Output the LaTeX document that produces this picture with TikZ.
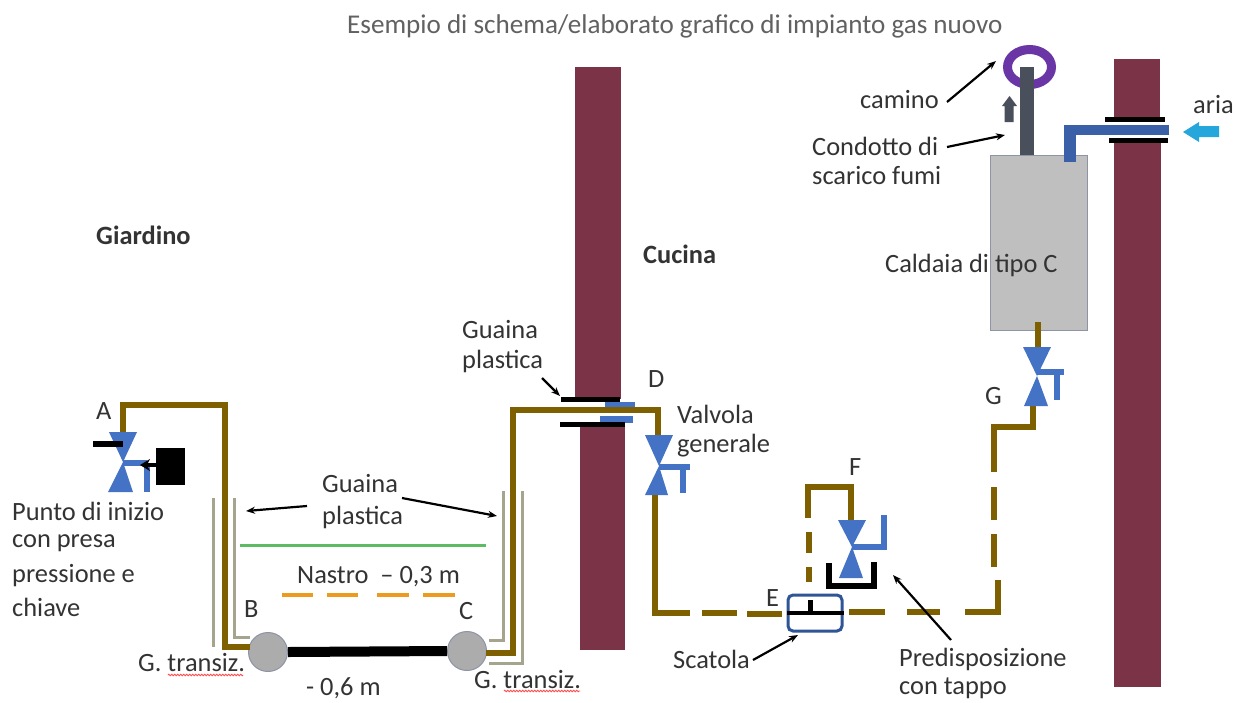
\documentclass[tikz,border=0pt]{standalone}
\usepackage{fontspec}
\setmainfont{Carlito}
\usetikzlibrary{arrows.meta,decorations.pathmorphing,shapes.geometric}
\definecolor{wall}{HTML}{7B3347}
\definecolor{pipe}{HTML}{7F6000}
\definecolor{vblue}{HTML}{4472C4}
\definecolor{dblue}{HTML}{2F5597}
\definecolor{sleeve}{HTML}{A5A58D}
\definecolor{boxgray}{HTML}{BFBFBF}
\definecolor{boxedge}{HTML}{8C94A5}
\definecolor{txt}{HTML}{333333}
\definecolor{ringc}{HTML}{6A35A5}
\definecolor{stem}{HTML}{4A4F5C}
\definecolor{tape}{HTML}{ED9B1F}
\definecolor{green1}{HTML}{5DBB63}
\definecolor{airc}{HTML}{25A7DC}
\tikzset{
  lbl/.style={font=\fontsize{26.4}{30}\selectfont,text=txt,inner sep=0pt,anchor=west},
  lblb/.style={lbl,font=\fontsize{26.4}{30}\selectfont\bfseries},
  pipeline/.style={draw=pipe,line width=6,line join=miter,line cap=butt},
  sleeveline/.style={draw=sleeve,line width=3},
  valveblue/.style={fill=vblue,draw=none},
  handle/.style={draw=vblue,line width=6},
  blackbar/.style={draw=black,line width=5},
  leader/.style={draw=black,line width=2.2,-{Stealth[length=9,width=7]}},
  wavy/.style={draw=red!70!white,line width=.8,decorate,decoration={zigzag,segment length=3,amplitude=.8}},
  joint/.style={circle,minimum size=39,inner sep=0,fill=boxgray!90!black,draw=boxedge,line width=1}
}
\newcommand{\valvetri}[7]{% cx, top y, half top, apex y, bottom y, half bottom x left, x right
  \fill[valveblue] (#1-#3,#2) -- (#1+#3,#2) -- (#1,#4) -- cycle;
  \fill[valveblue] (#1,#4) -- (#1+#7,#5) -- (#1-#6,#5) -- cycle;}
\begin{document}
\begin{tikzpicture}[x=1pt,y=-1pt]
\useasboundingbox (0,0) rectangle (1236,702);
\fill[white] (0,0) rectangle (1236,702);
% walls
\fill[wall] (575,67) rectangle (621,399);
\fill[wall] (580,424) rectangle (625,650);
\fill[wall] (1114,59) rectangle (1160,119);
\fill[wall] (1114,140) rectangle (1161,687);
% title
\node[lbl,font=\fontsize{27.1}{32}\selectfont,text=black!62] (title) at (347,26) {Esempio di schema/elaborato grafico di impianto gas nuovo};
% room labels
\node[lblb] (giardino) at (96,235) {Giardino};
\node[lblb] (cucina) at (643,254) {Cucina};
% boiler
\node[draw=boxedge,fill=boxgray,line width=1.2,minimum width=97,minimum height=175,inner sep=0,anchor=north west] (boiler) at (990,155) {};
\node[lbl] (caldaia) at (885,265) {Caldaia di tipo C};
% chimney
\fill[stem] (1020,90) rectangle (1034,155);
\node[ellipse,draw=ringc,line width=9,minimum width=44,minimum height=35,inner sep=0] (ring) at (1029.5,67) {};
\fill[stem] (1020,67) rectangle (1034,90);
\fill[stem] (1009.5,96) -- (1017,106) -- (1013.5,106) -- (1013.5,122) -- (1004.5,122) -- (1004.5,106) -- (1002,106) -- cycle;
% air duct
\draw[draw=vblue!85!black,line width=10] (1169,130) -- (1065,130);
\draw[draw=vblue!85!black,line width=12] (1070,125) -- (1070,162);
\draw[blackbar] (1105,119) -- (1165,119);
\draw[blackbar] (1109,140) -- (1168,140);
\fill[airc] (1183,132) -- (1199,122) -- (1199,126) -- (1219,126) -- (1219,137) -- (1199,137) -- (1199,142) -- cycle;
% joints & buried pipe
\node[joint] (B) at (268,652) {};
\node[joint] (C) at (467,651) {};
\draw[black,line width=10] (B.east) -- (C.west);
% sleeve lines
\draw[sleeveline] (213,498) -- (213,647);
\draw[sleeveline] (234,498) -- (234,637) -- (250,637);
\draw[sleeveline] (503,491) -- (503,640) -- (489,640);
\draw[sleeveline] (522,491) -- (522,663) -- (489,663);
% left pipe
\draw[pipeline] (123,433) -- (123,405) -- (225,405) -- (225,647) -- (250,647);
% wall crossing
\fill[vblue] (605,402) rectangle (635,408);
\fill[vblue] (600,416) rectangle (633,423);
\draw[pipeline] (486,653) -- (513,653) -- (513,410) -- (658,410) -- (658,435);
\draw[blackbar] (561,399) -- (620,399);
\draw[blackbar] (560,424) -- (625,424);
% tape, green
\draw[draw=green1,line width=3] (240,545) -- (486,545);
\foreach \a/\b in {282/313,327/358,377/409,423/455}
  \draw[draw=tape,line width=3.2] (\a,595) -- (\b,595);
% valve A
\valvetri{123}{432}{14}{462}{492}{15}{10}
\draw[handle] (123,463) -- (147,463) (147,463) -- (147,492);
\draw[blackbar,line width=6] (93,444) -- (123,444);
\node[fill=black,minimum width=29,minimum height=37,inner sep=0,anchor=north west] (plug) at (156,448) {};
\draw[black,line width=4,-{Stealth[length=10,width=12]}] (plug.west |- 0,465) -- (140,465);
% valve D
\valvetri{659}{435}{14}{466}{495}{14}{9}
\draw[handle] (659,467) -- (690,467) (683,467) -- (683,493);
\draw[pipeline] (655,495) -- (655,613) -- (690,613);
\draw[pipeline] (702,613) -- (737,613);
\draw[pipeline] (747,614) -- (782,614);
% box E
\node[draw=dblue,line width=3,rounded corners=5,minimum width=54,minimum height=36,inner sep=0] (boxE) at (815,613) {};
\draw[black,line width=4] (boxE.west) -- (boxE.east);
\draw[black,line width=5] (810,600) -- (810,614);
\foreach \a/\b in {849/885,907/940}
  \draw[pipeline] (\a,612) -- (\b,612);
\draw[pipeline] (965,612) -- (998,612) -- (998,580);
\draw[pipeline] (994,567) -- (994,534);
\draw[pipeline] (994,520) -- (994,487);
\draw[pipeline] (994,472) -- (994,427) -- (1033,427) -- (1033,406);
% valve G
\valvetri{1037}{347}{14}{376}{406}{13}{11}
\draw[handle] (1037,372) -- (1064,372) (1057,372) -- (1057,400);
\draw[pipeline] (1038,322) -- (1038,347);
% valve F branch
\draw[pipeline] (851,520) -- (851,487) -- (808,487) -- (808,518);
\draw[pipeline] (809,532) -- (809,553);
\draw[pipeline] (809,567) -- (809,582);
\valvetri{852}{520}{14}{547}{578}{13}{11}
\draw[handle] (852,547) -- (884,547) -- (884,515);
\draw[black,line width=6] (829,563) -- (829,586) -- (874,586) (874,562) -- (874,589);
% text labels
\node[lbl] (camino) at (860,100) {camino};
\node[lbl] (condotto1) at (812,146) {Condotto di};
\node[lbl] (condotto2) at (812,176) {scarico fumi};
\node[lbl] (aria) at (1193,105) {aria};
\node[lbl] (gua1) at (462,330) {Guaina};
\node[lbl] (gua2) at (462,361) {plastica};
\node[lbl] (gua3) at (322,484) {Guaina};
\node[lbl] (gua4) at (322,517) {plastica};
\node[lbl] (valv1) at (677,414) {Valvola};
\node[lbl] (valv2) at (677,446) {generale};
\node[lbl] (lA) at (96,411) {A};
\node[lbl] (lB) at (244,609) {B};
\node[lbl] (lC) at (459,611) {C};
\node[lbl] (lD) at (648,379) {D};
\node[lbl] (lE) at (766,598) {E};
\node[lbl] (lF) at (849,467) {F};
\node[lbl] (lG) at (985,396) {G};
\node[lbl] (nastro) at (297,577) {Nastro\ \ – 0,3 m};
\node[lbl] (meno) at (306,688) {- 0,6 m};
\node[lbl] (p1) at (12,511) {Punto di inizio};
\node[lbl] (p2) at (12,543) {con presa};
\node[lbl] (p3) at (12,576) {pressione e};
\node[lbl] (p4) at (12,607) {chiave};
\node[lbl] (scat) at (673,659) {Scatola};
\node[lbl] (pred1) at (899,659) {Predisposizione};
\node[lbl] (pred2) at (899,688) {con tappo};
\node[lbl] (gt1) at (138,663) {G. transiz.};
\node[lbl] (gt2) at (474,680) {G. transiz.};
\draw[wavy] (168,675) -- (243,675);
\draw[wavy] (504,691) -- (580,691);
% leaders
\coordinate (ca) at (947,102); \coordinate (cb) at (996,61);
\coordinate (da) at (947,147); \coordinate (db) at (1005,135);
\coordinate (ga) at (307,506); \coordinate (gb) at (246,511);
\coordinate (ha) at (402,498); \coordinate (hb) at (497,516);
\coordinate (ia) at (542,378); \coordinate (ib) at (560,396);
\coordinate (ja) at (753,660); \coordinate (jb) at (798,635);
\coordinate (ka) at (951,640); \coordinate (kb) at (893,575);
\draw[leader] (ca) -- (cb);
\draw[leader] (da) -- (db);
\draw[leader] (ga) -- (gb);
\draw[leader] (ha) -- (hb);
\draw[leader] (ia) -- (ib);
\draw[leader] (ja) -- (jb);
\draw[leader] (ka) -- (kb);
\end{tikzpicture}
\end{document}
